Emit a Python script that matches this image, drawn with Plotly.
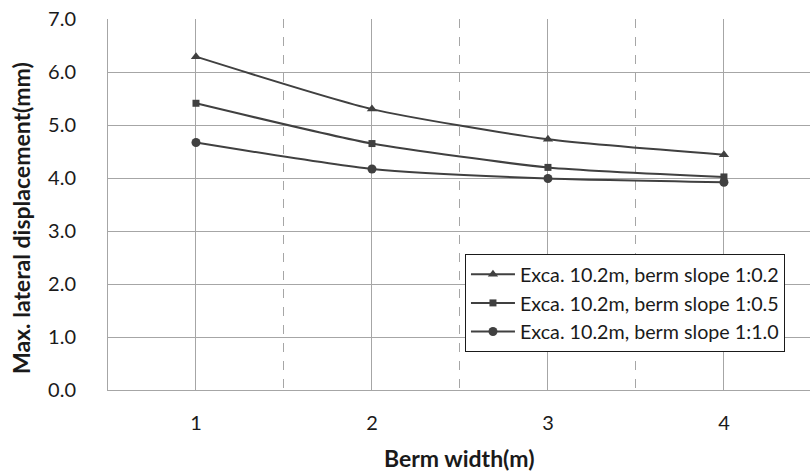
import plotly.graph_objects as go

# Berm width (m) and maximum lateral displacement (mm) for each berm slope
berm_width = [1, 2, 3, 4]
slope_02 = [6.29, 5.30, 4.73, 4.44]
slope_05 = [5.41, 4.65, 4.20, 4.02]
slope_10 = [4.67, 4.17, 3.99, 3.92]

series_names = [
    "Exca. 10.2m, berm slope 1:0.2",
    "Exca. 10.2m, berm slope 1:0.5",
    "Exca. 10.2m, berm slope 1:1.0",
]
y_ticks = [0, 1, 2, 3, 4, 5, 6, 7]
y_tick_text = ["0.0", "1.0", "2.0", "3.0", "4.0", "5.0", "6.0", "7.0"]

line_color = "#404040"
grid_color = "#a6a6a6"
text_color = "#1a1a1a"
font_family = "Lato"

fig = go.Figure()
for name, vals, sym in zip(series_names, [slope_02, slope_05, slope_10],
                           ["triangle-up", "square", "circle"]):
    fig.add_trace(go.Scatter(
        x=berm_width, y=vals, name=name, mode="lines+markers",
        line=dict(color=line_color, width=2, shape="spline", smoothing=0.6),
        marker=dict(symbol=sym, size=9 if sym != "square" else 7, color=line_color),
    ))

fig.update_layout(
    width=810, height=472,
    margin=dict(l=108, r=0, t=19, b=82),
    paper_bgcolor="white", plot_bgcolor="white",
    font=dict(family=font_family, size=20, color=text_color),
    legend=dict(
        x=0.5085, y=0.3666, xanchor="left", yanchor="top",
        bordercolor=text_color, borderwidth=1, bgcolor="white",
        font=dict(size=19.7, color=text_color),
        itemwidth=44,
    ),
    xaxis=dict(
        range=[0.5, 4.489], tickvals=berm_width, ticktext=[str(v) for v in berm_width],
        showgrid=True, gridcolor=grid_color, gridwidth=1,
        minor=dict(tickvals=[1.5, 2.5, 3.5], showgrid=True, gridcolor=grid_color,
                   griddash="dash", gridwidth=1),
        showline=True, linecolor=grid_color, linewidth=1,
        zeroline=False, ticks="", ticklabelstandoff=15,
        tickfont=dict(size=20),
    ),
    yaxis=dict(
        range=[0, 7], tickvals=y_ticks, ticktext=y_tick_text,
        showgrid=True, gridcolor=grid_color, gridwidth=1,
        showline=True, linecolor=grid_color, linewidth=1,
        zeroline=False, ticks="", ticklabelstandoff=27,
        tickfont=dict(size=20),
    ),
    annotations=[
        dict(text="<b>Berm width(m)</b>", xref="paper", yref="paper",
             x=0.5014, y=0, xanchor="center", yanchor="middle", yshift=-68,
             showarrow=False, font=dict(size=23)),
        dict(text="<b>Max. lateral displacement(mm)</b>", xref="paper", yref="paper",
             x=0, y=0.4636, xanchor="center", yanchor="middle", xshift=-87,
             textangle=-90, showarrow=False, font=dict(size=23)),
    ],
)

fig.write_html("out.html")
